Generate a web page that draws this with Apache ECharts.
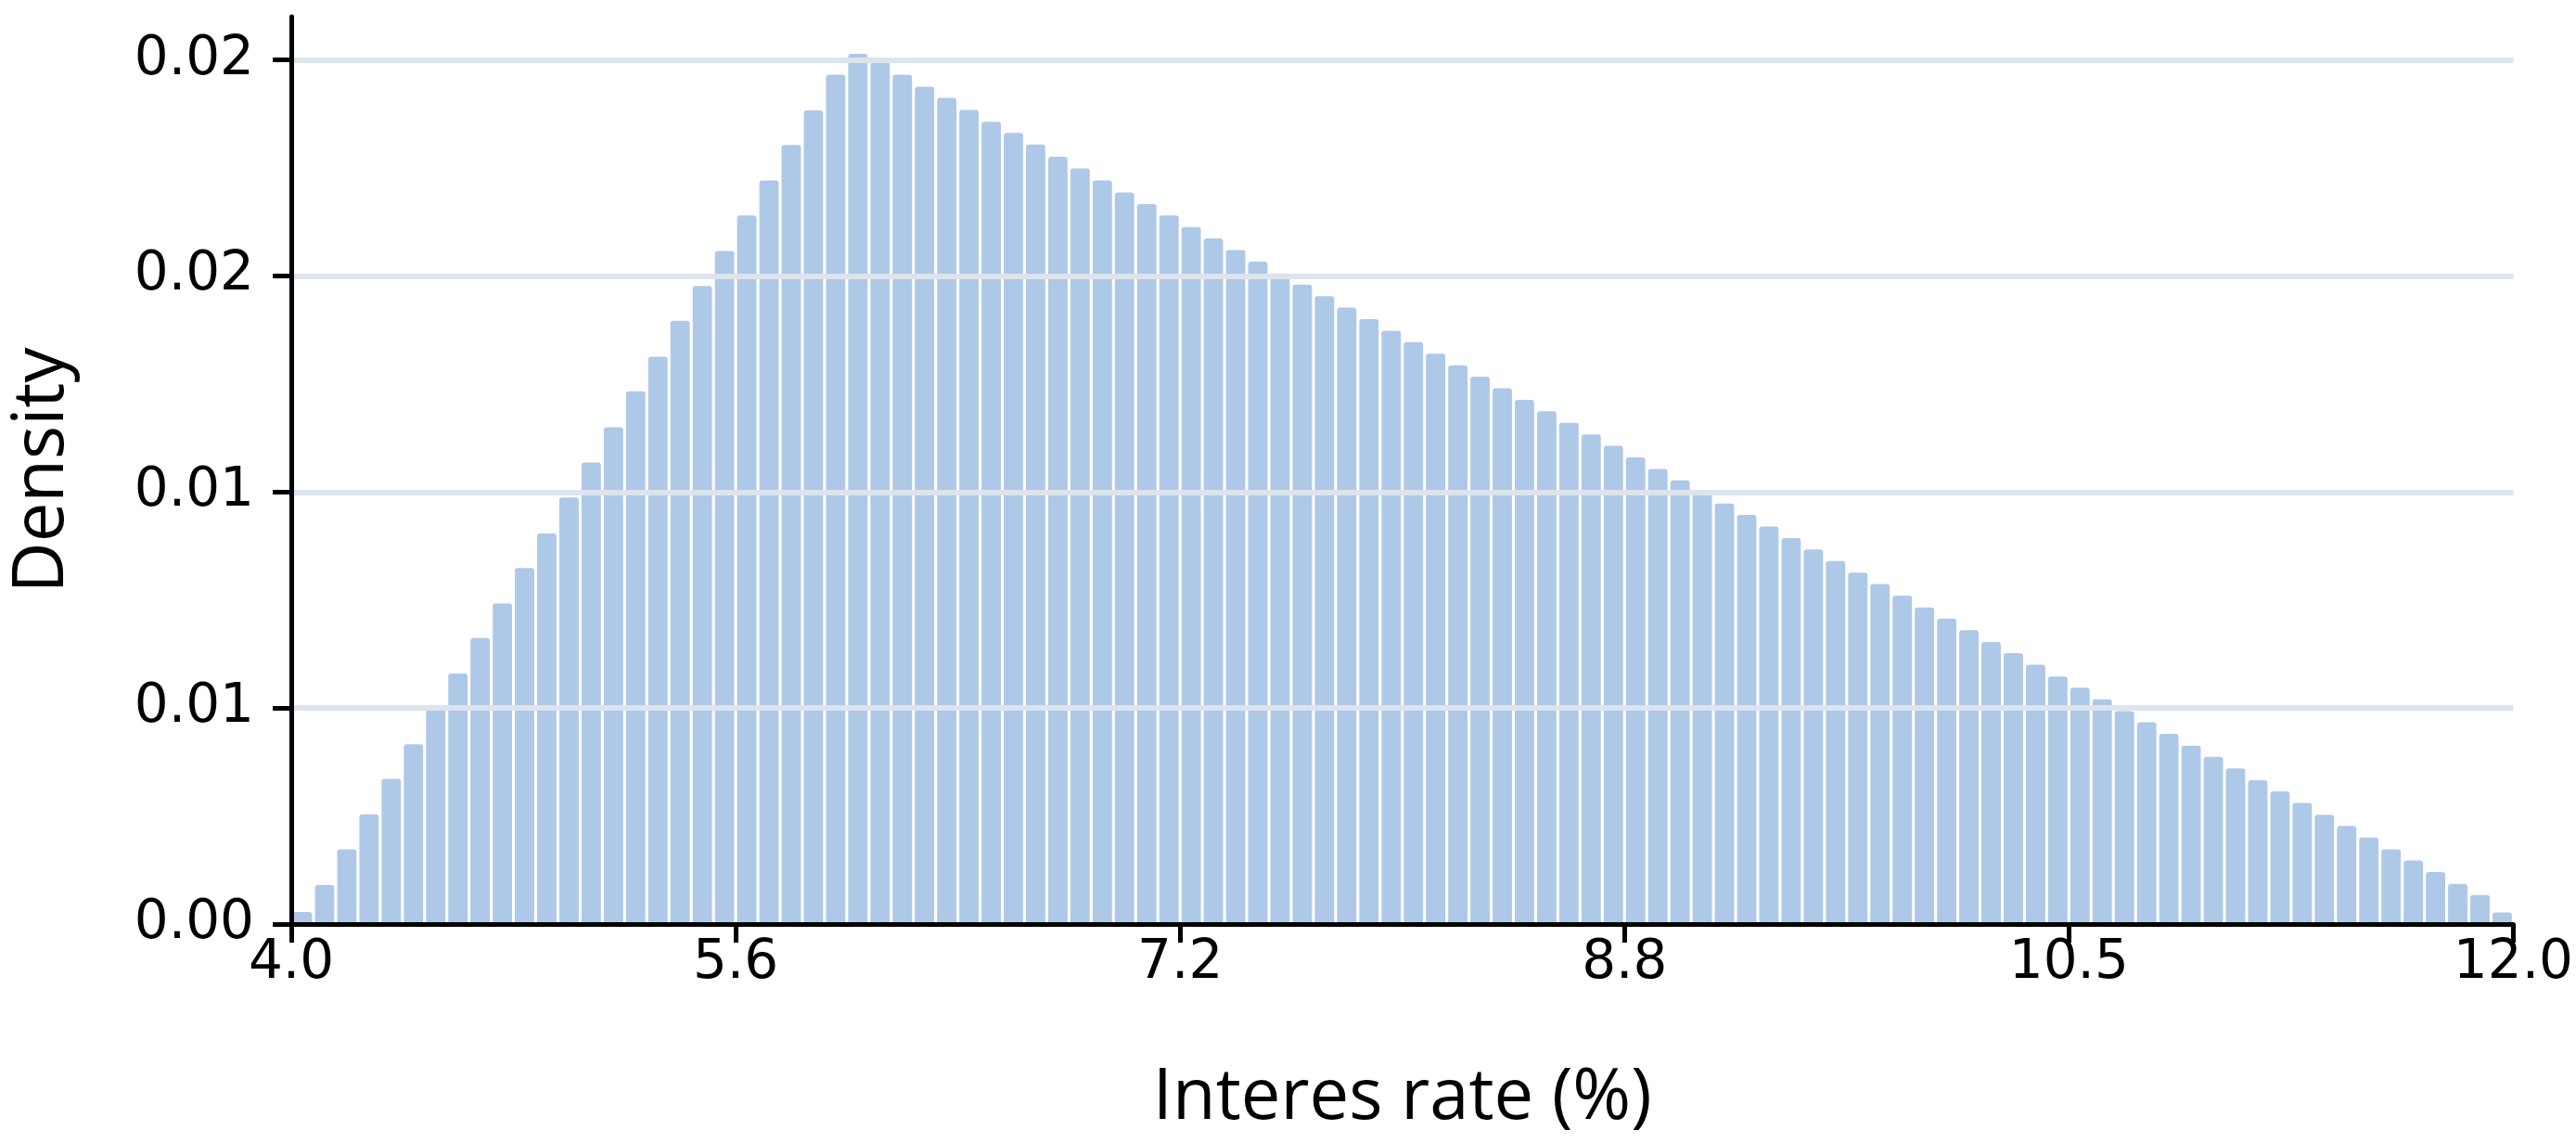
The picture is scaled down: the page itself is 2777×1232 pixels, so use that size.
<!DOCTYPE html>
<html>
<head>
<meta charset="utf-8">
<script src="https://cdn.jsdelivr.net/npm/echarts@6/dist/echarts.min.js"></script>
<style>html,body{margin:0;padding:0;background:#fff}#main{width:2777px;height:1232px}</style>
</head>
<body>
<div id="main"></div>
<script>
// histogram bins: 100 bins of width 0.08 from 4.0 to 12.0
var binStart = 4.0;
var binWidth = 0.08;
var density = [
  0.00028, 0.0009, 0.00173, 0.00254, 0.00336, 0.00416, 0.00498, 0.0058, 0.00662, 0.00742,
  0.00824, 0.00904, 0.00987, 0.01068, 0.0115, 0.01233, 0.01313, 0.01396, 0.01477, 0.01558,
  0.0164, 0.01721, 0.01803, 0.01883, 0.01966, 0.02014, 0.01994, 0.01966, 0.01938, 0.01912,
  0.01884, 0.01857, 0.01831, 0.01804, 0.01776, 0.01749, 0.01721,
  0.01693, 0.01666, 0.01640, 0.01613, 0.01587, 0.01560, 0.01533, 0.01506, 0.01480, 0.01453,
  0.01427, 0.01400, 0.01373, 0.01347, 0.01320, 0.01293, 0.01267, 0.01240, 0.01213, 0.01187,
  0.01160, 0.01133, 0.01107, 0.01080, 0.01053, 0.01027, 0.01000, 0.00973, 0.00947, 0.00920,
  0.00893, 0.00867, 0.00840, 0.00813, 0.00787, 0.00760, 0.00733, 0.00707, 0.00680, 0.00653,
  0.00627, 0.00600, 0.00573, 0.00547, 0.00520, 0.00493, 0.00467, 0.00440, 0.00413, 0.00387,
  0.00360, 0.00333, 0.00307, 0.00280, 0.00253, 0.00227, 0.00200, 0.00173, 0.00147, 0.00120,
  0.00093, 0.00067, 0.00027
];
var xTicks = [4.0, 5.6, 7.2, 8.8, 10.4, 12.0];
var xTickLabels = ['4.0', '5.6', '7.2', '8.8', '10.5', '12.0'];
var yTicks = [0, 0.005, 0.01, 0.015, 0.02];
var yTickLabels = ['0.00', '0.01', '0.01', '0.02', '0.02'];

var barData = density.map(function (v, i) {
  return [binStart + binWidth * (i + 0.5), v];
});

var myChart = echarts.init(document.getElementById('main'));
var option = {
  animation: false,
  grid: {left: 305, right: 36, top: 18, bottom: 236},
  xAxis: {
    type: 'value', min: 4, max: 12, z: 10,
    name: 'Interes rate (%)', nameLocation: 'middle', nameGap: 150,
    nameTextStyle: {fontFamily: 'Open Sans', fontSize: 76, color: '#000'},
    axisLine: {show: true, lineStyle: {color: '#000', width: 5}},
    axisTick: {show: true, length: 20, lineStyle: {color: '#000', width: 5}, customValues: xTicks},
    axisLabel: {
      fontFamily: 'DejaVu Sans', fontSize: 58, color: '#000', margin: 14,
      customValues: xTicks,
      formatter: function (v) { return xTickLabels[xTicks.indexOf(v)]; }
    },
    splitLine: {show: false}
  },
  yAxis: {
    type: 'value', min: 0, max: 0.021, z: 10,
    name: 'Density', nameLocation: 'middle', nameGap: 230,
    nameTextStyle: {fontFamily: 'Open Sans', fontSize: 76, color: '#000'},
    axisLine: {show: true, lineStyle: {color: '#000', width: 5}},
    axisTick: {show: true, length: 20, lineStyle: {color: '#000', width: 5}, customValues: yTicks},
    axisLabel: {
      fontFamily: 'DejaVu Sans', fontSize: 58, color: '#000', margin: 40,
      customValues: yTicks,
      formatter: function (v) { return yTickLabels[yTicks.indexOf(v)]; }
    },
    splitLine: {show: false}
  },
  series: [
    {
      type: 'line', data: [[4, 0]], z: 1, silent: true, symbol: 'none',
      lineStyle: {opacity: 0},
      markLine: {
        symbol: 'none', silent: true, label: {show: false},
        lineStyle: {color: '#dde4ec', width: 6, type: 'solid'},
        data: yTicks.slice(1).map(function (v) {
          return [{coord: [4, v]}, {coord: [12, v]}];
        })
      }
    },
    {
      type: 'bar', data: barData, z: 2,
      barWidth: '87%',
      itemStyle: {color: '#aec8e8', borderRadius: [3, 3, 0, 0]}
    }
  ]
};
myChart.setOption(option);
window.addEventListener('resize', function () {
  myChart.resize();
});
</script>
</body>
</html>
